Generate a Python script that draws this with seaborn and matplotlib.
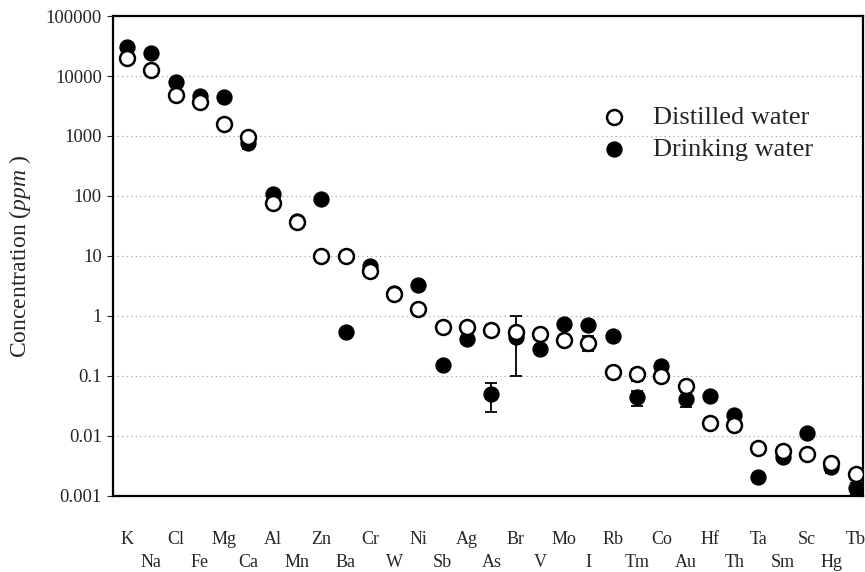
import numpy as np
import pandas as pd
import matplotlib
matplotlib.use("Agg")
import matplotlib.pyplot as plt
import seaborn as sns

elements = ["K", "Na", "Cl", "Fe", "Mg", "Ca", "Al", "Mn", "Zn", "Ba", "Cr", "W",
            "Ni", "Sb", "Ag", "As", "Br", "V", "Mo", "I", "Rb", "Tm", "Co", "Au",
            "Hf", "Th", "Ta", "Sm", "Sc", "Hg", "Tb"]
distilled = [19700, 12600, 4800, 3700, 1580, 950, 76, 37, 10, 10, 5.7, 2.3,
             1.3, 0.66, 0.66, 0.58, 0.55, 0.51, 0.39, 0.36, 0.118, 0.108, 0.1, 0.068,
             0.0166, 0.0152, 0.0063, 0.0057, 0.005, 0.0036, 0.0023]
drinking = [31000, 24500, 8000, 4650, 4500, 760, 107, 39, 88, 0.55, 6.8, 2.45,
            3.3, 0.152, 0.41, 0.05, 0.44, 0.28, 0.74, 0.7, 0.46, 0.044, 0.147, 0.042,
            0.046, 0.0224, 0.0021, 0.0045, 0.011, 0.003, 0.00135]
# error bar half-widths (ppm), 0 = no visible bar
distilled_err = [0, 0, 0, 500, 0, 120, 0, 0, 0, 0, 0, 0,
                 0, 0, 0.08, 0.12, 0.45, 0.05, 0, 0.1, 0, 0.025, 0, 0.012,
                 0.003, 0, 0.0008, 0.0008, 0, 0.0004, 0]
drinking_err = [0, 0, 0, 600, 500, 150, 0, 0, 0, 0, 0, 0,
                0, 0, 0.07, 0.025, 0, 0.05, 0, 0, 0, 0.012, 0, 0.012,
                0, 0.003, 0, 0.0008, 0, 0.0006, 0.0003]

df = pd.DataFrame({
    "pos": list(range(len(elements))) * 2,
    "conc": distilled + drinking,
    "err": distilled_err + drinking_err,
    "water": ["Distilled water"] * len(elements) + ["Drinking water"] * len(elements),
})

sns.set_style("white")
plt.rcParams["font.family"] = ["Liberation Serif", "DejaVu Serif"]
plt.rcParams["mathtext.fontset"] = "custom"
plt.rcParams["mathtext.it"] = "Liberation Serif:italic"
plt.rcParams["mathtext.rm"] = "Liberation Serif"

fig = plt.figure(figsize=(8.65, 5.72), dpi=100)
ax = fig.add_axes([0.1306, 0.133, 0.867, 0.839])

# error bars first, behind the markers
for name, sub in df.groupby("water"):
    s = sub[sub["err"] > 0]
    ax.errorbar(s["pos"], s["conc"], yerr=s["err"], fmt="none", ecolor="black",
                elinewidth=1.3, capsize=4.5, capthick=1.3, zorder=2)

drink = df[df["water"] == "Drinking water"]
dist = df[df["water"] == "Distilled water"]
sns.scatterplot(data=drink, x="pos", y="conc", ax=ax, color="black", edgecolor="black",
                s=115, linewidth=1, label="Drinking water", zorder=3)
sns.scatterplot(data=dist, x="pos", y="conc", ax=ax, color="white", edgecolor="black",
                s=115, linewidth=1.8, label="Distilled water", zorder=4)

ax.set_yscale("log")
ax.set_ylim(0.001, 100000)
ax.set_xlim(-0.58, 30.3)
yt = [0.001, 0.01, 0.1, 1, 10, 100, 1000, 10000, 100000]
ax.set_yticks(yt)
ax.set_yticklabels(["%g" % v if v < 1e4 else "%d" % v for v in yt], fontsize=13.5)
ax.yaxis.set_minor_locator(matplotlib.ticker.NullLocator())
ax.tick_params(axis="y", length=4, width=0.8, direction="out", left=True, pad=4)
ax.grid(axis="y", color="#999999", linestyle=(0, (1, 3)), linewidth=0.8)

# alternate element labels on two rows
ax.set_xticks(range(0, len(elements), 2))
ax.set_xticklabels(elements[0::2], fontsize=13)
ax.set_xticks(range(1, len(elements), 2), minor=True)
ax.set_xticklabels(elements[1::2], minor=True, fontsize=13)
ax.tick_params(axis="x", which="major", length=0, pad=25)
ax.tick_params(axis="x", which="minor", length=0, pad=41.5)
ax.set_xlabel("")
ax.set_ylabel("Concentration ($ppm$ )", fontsize=17)
ax.yaxis.set_label_coords(-0.106, 0.5)

for sp in ax.spines.values():
    sp.set_color("black")
    sp.set_linewidth(1.6)

handles, labels = ax.get_legend_handles_labels()
order = [labels.index("Distilled water"), labels.index("Drinking water")]
ax.legend([handles[i] for i in order], [labels[i] for i in order], loc="upper right",
          bbox_to_anchor=(0.948, 0.835), frameon=False, fontsize=19,
          handletextpad=0.5, labelspacing=0.3, borderaxespad=0)

fig.savefig("out.png", dpi=100)
